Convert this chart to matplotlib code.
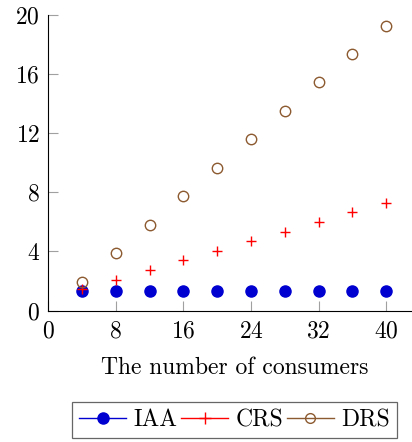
import matplotlib.pyplot as plt
from matplotlib.lines import Line2D

plt.rcParams['font.family'] = ['cmr10', 'DejaVu Serif']
plt.rcParams['mathtext.fontset'] = 'cm'
plt.rcParams['axes.formatter.use_mathtext'] = True

# data
consumers = [4, 8, 12, 16, 20, 24, 28, 32, 36, 40]
iaa = [1.3, 1.3, 1.3, 1.3, 1.3, 1.3, 1.3, 1.3, 1.3, 1.3]
crs = [1.45, 2.1, 2.75, 3.4, 4.05, 4.7, 5.35, 6.0, 6.65, 7.27]
drs = [1.95, 3.87, 5.8, 7.73, 9.64, 11.58, 13.49, 15.43, 17.34, 19.26]
xticks = [0, 8, 16, 24, 32, 40]
yticks = [0, 4, 8, 12, 16, 20]

c_iaa = '#0000d0'
c_crs = '#ff0000'
c_drs = '#8c5a30'
fs = 17

fig = plt.figure(figsize=(4.12, 4.42), dpi=100)
ax = fig.add_axes([0.117, 0.297, 0.882, 0.670])

ax.plot(consumers, iaa, 'o', color=c_iaa, ms=8, ls='none', zorder=2)
ax.plot(consumers, crs, '+', color=c_crs, ms=7, mew=1.0, ls='none', zorder=3)
ax.plot(consumers, drs, 'o', mfc='none', mec=c_drs, ms=7.5, mew=1.0, ls='none', zorder=3)

ax.set_xlim(0, 43)
ax.set_ylim(0, 20)
ax.set_xticks(xticks)
ax.set_yticks(yticks)
ax.spines['top'].set_visible(False)
ax.spines['right'].set_visible(False)
ax.tick_params(direction='in', length=7.5, width=0.8, color='#a0a0a0',
               labelsize=fs, pad=7)
ax.tick_params(axis='y', pad=6)

ax.set_xlabel('The number of consumers', fontsize=fs)
ax.xaxis.set_label_coords(0.513, -0.194)
ax.xaxis.label.set_va('center')

handles = [
    Line2D([], [], color=c_iaa, marker='o', ms=8, lw=1.0),
    Line2D([], [], color=c_crs, marker='+', ms=8, mew=1.0, lw=1.0),
    Line2D([], [], color=c_drs, marker='o', mfc='none', ms=7, mew=1.0, lw=1.0),
]
leg = fig.legend(handles, ['IAA', 'CRS', 'DRS'], loc='center',
                 bbox_to_anchor=(0.569, 0.0498), ncol=3, fontsize=fs,
                 frameon=True, fancybox=False, edgecolor='#404040',
                 handlelength=2.0, handletextpad=0.3, columnspacing=0.15,
                 borderpad=0.3)
leg.get_frame().set_linewidth(0.9)

fig.savefig('out.png', dpi=100)
